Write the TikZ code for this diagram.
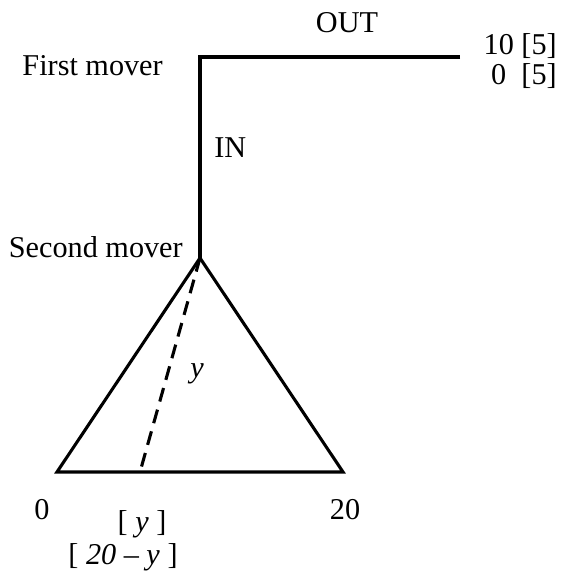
\documentclass[tikz,border=0pt]{standalone}
\usepackage{fontspec}
\setmainfont{Liberation Serif}
\usepackage{tikz}

\begin{document}
\begin{tikzpicture}[x=0.025cm, y=-0.025cm,
    lbl/.style={font=\fontsize{21.5}{25}\selectfont, inner sep=0pt},
    branch/.style={line width=2.2pt, line join=miter},
    guess/.style={line width=2.2pt, dash pattern=on 10pt off 6pt},
]
\useasboundingbox (0,0) rectangle (561,571);

% Decision points
\coordinate (fm) at (200,57);
\coordinate (outend) at (460,57);
\coordinate (sm) at (200,258);
\coordinate (bl) at (57,472);
\coordinate (br) at (343,472);
\coordinate (split) at (140,472);

% First mover: OUT or IN
\draw[branch] (outend) -- (fm) -- (sm);
\node[lbl, anchor=base] (outlbl) at (347,33) {OUT};
\node[lbl, anchor=base east] (fmlbl) at (163,76) {First mover};
\node[lbl, anchor=base west] (inlbl) at (214,157) {IN};
\node[lbl, anchor=base east] (pay1) at (557,55) {10 [5]};
\node[lbl, anchor=base east] (pay2) at (557,85) {0\ \ [5]};

% Second mover: offer y out of 20
\draw[branch] (sm) -- (bl) -- (br) -- cycle;
\draw[guess] (sm) -- (split);
\node[lbl, anchor=base east] (smlbl) at (183,257) {Second mover};
\node[lbl, anchor=base] (ylbl) at (197,377) {\textit{y}};

% Pie endpoints
\node[lbl, anchor=base] (zero) at (42,519) {0};
\node[lbl, anchor=base] (twenty) at (345,519) {20};
\node[lbl, anchor=base] (payy) at (142,531) {[ \textit{y} ]};
\node[lbl, anchor=base] (payrest) at (123,564) {[ \textit{20 – y} ]};

\end{tikzpicture}
\end{document}
